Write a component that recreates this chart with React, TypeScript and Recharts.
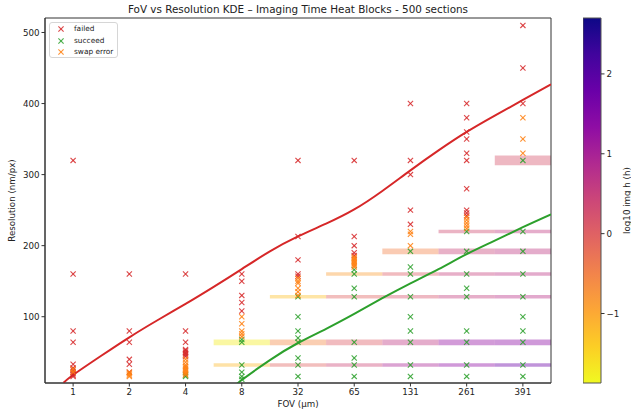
import React from 'react';
import {
  ComposedChart,
  XAxis,
  YAxis,
  Scatter,
  Line,
  ReferenceArea,
  Legend,
} from 'recharts';

// ---------------- data ----------------
const FOV_LABELS = ['1', '2', '4', '8', '32', '65', '131', '261', '391'];
const Y_TICKS = [100, 200, 300, 400, 500];
const CB_TICKS = [-1, 0, 1, 2];
const CB_MIN = -1.87;
const CB_MAX = 2.7;

// resolution values (nm/px) of sections per FOV column
const FAILED_RES: number[][] = [
  [320, 160, 80, 64, 33, 28, 25, 22, 20, 18, 16],
  [160, 80, 64, 40, 33, 22],
  [160, 80, 64, 54, 52, 50, 48, 46, 44],
  [160, 150, 130, 120, 108],
  [320, 213, 180, 160, 157],
  [320, 213, 200, 190, 186],
  [400, 320, 300, 250, 230],
  [400, 380, 360, 350, 330, 320, 280, 250, 246, 242],
  [510, 450, 400],
];
const SWAP_RES: number[][] = [
  [26, 22],
  [22, 20, 18, 16],
  [40, 36, 32, 30, 28, 26, 24, 22, 20, 18],
  [100, 90, 80, 76, 72],
  [154, 150, 147, 140, 135, 130],
  [184, 182, 180, 178, 176, 174, 172, 170],
  [220, 216, 200],
  [240, 236, 232, 228, 224],
  [380, 350, 330],
];
const SUCCEED_RES: number[][] = [
  [],
  [],
  [18, 16],
  [68, 64, 32, 22, 16, 12],
  [128, 100, 80, 70, 64, 42, 32, 16],
  [166, 160, 140, 128, 64, 42, 32, 16],
  [192, 170, 160, 128, 100, 80, 64, 32, 16],
  [220, 192, 160, 140, 128, 80, 64, 32, 16],
  [320, 220, 192, 160, 128, 100, 80, 64, 32, 16],
];

// KDE boundary curves (x = FOV column position)
const KDE_FAILED_X = [-0.17, 0, 0.5, 1, 1.5, 2, 2.5, 3, 3.5, 4, 4.5, 5, 5.5, 6, 6.5, 7, 7.5, 8, 8.5];
const KDE_FAILED_Y = [7, 18, 45, 71, 95, 118, 142, 167, 192, 213, 231, 251, 277, 306, 334, 360, 383, 405, 427];
const KDE_SUCCEED_X = [2.94, 3, 3.5, 4, 4.5, 5, 5.5, 6, 6.5, 7, 7.5, 8, 8.5];
const KDE_SUCCEED_Y = [7, 11, 39, 63, 83, 104, 126, 147, 167, 188, 207, 226, 244];

// heat blocks: resolution row, first FOV column, log10 imaging hours per column
const BLOCK_RES = [32, 64, 128, 160, 192, 220, 320];
const BLOCK_START_COL = [3, 3, 4, 5, 6, 7, 8];
const BLOCK_LOG_H: number[][] = [
  [-1.18, -0.04, 0.4, 0.96, 1.33, 1.79],
  [-1.73, -0.59, 0.05, 0.64, 1.28, 1.37],
  [-1.28, -0.04, 0.19, 0.55, 0.73],
  [-0.86, 0.05, 0.51, 0.69],
  [-0.5, 0.46, 0.64],
  [0.32, 0.6],
  [0.19],
];
// block half-thickness in resolution units (style)
const BLOCK_HALF = [2.5, 4, 2.5, 2.5, 4, 2.5, 7];

// ---------------- helpers ----------------
const PLASMA = ['#0d0887', '#41049d', '#6a00a8', '#8f0da4', '#b12a90', '#cc4778', '#e16462', '#f2844b', '#fca636', '#fcce25', '#f0f921'];
const hex = (h: string) => [1, 3, 5].map((i) => parseInt(h.slice(i, i + 2), 16));
function plasma(t: number): string {
  const c = Math.max(0, Math.min(1, t)) * 10;
  const i = Math.min(9, Math.floor(c));
  const f = c - i;
  const a = hex(PLASMA[i]);
  const b = hex(PLASMA[i + 1]);
  const m = a.map((v, k) => Math.round(v + (b[k] - v) * f));
  return `rgb(${m[0]},${m[1]},${m[2]})`;
}
const colorFor = (v: number) => plasma(1 - (v - CB_MIN) / (CB_MAX - CB_MIN));

const toPoints = (cols: number[][]) =>
  cols.flatMap((vals, i) => vals.map((y) => ({ x: i, y })));
const failedPts = toPoints(FAILED_RES);
const swapPts = toPoints(SWAP_RES);
const succeedPts = toPoints(SUCCEED_RES);
const redLine = KDE_FAILED_X.map((x, i) => ({ x, y: KDE_FAILED_Y[i] }));
const greenLine = KDE_SUCCEED_X.map((x, i) => ({ x, y: KDE_SUCCEED_Y[i] }));

const blocks = BLOCK_RES.flatMap((res, r) =>
  BLOCK_LOG_H[r].map((v, k) => {
    const col = BLOCK_START_COL[r] + k;
    return {
      key: `b${r}-${k}`,
      x1: col - 0.5,
      x2: col + 0.5,
      y1: res - BLOCK_HALF[r],
      y2: res + BLOCK_HALF[r],
      color: colorFor(v),
    };
  })
);

const RED = '#d62728';
const GREEN = '#2ca02c';
const ORANGE = '#ff7f0e';
const FONT = 'DejaVu Sans, sans-serif';
const X_DOMAIN: [number, number] = [-0.5, 8.5];
const Y_DOMAIN: [number, number] = [6.7, 520.4];

const XMark = (props: any) => {
  const { cx, cy, color } = props;
  if (cx == null || cy == null) return null;
  const s = 2.6;
  return (
    <g stroke={color} strokeWidth={1.1} strokeOpacity={0.85}>
      <line x1={cx - s} y1={cy - s} x2={cx + s} y2={cy + s} />
      <line x1={cx - s} y1={cy + s} x2={cx + s} y2={cy - s} />
    </g>
  );
};

const tickStyle = { fontSize: 8.7, fill: '#222', fontFamily: FONT };

const LegendBox = () => {
  const items = [
    { label: 'failed', color: RED },
    { label: 'succeed', color: GREEN },
    { label: 'swap error', color: ORANGE },
  ];
  return (
    <div
      style={{
        position: 'relative',
        width: 69,
        height: 36,
        border: '1px solid #d6d6d6',
        borderRadius: 3,
        background: 'rgba(255,255,255,0.85)',
        boxSizing: 'border-box',
        fontFamily: FONT,
        fontSize: 7.4,
        color: '#222',
      }}
    >
      {items.map((it, i) => (
        <div key={it.label} style={{ position: 'absolute', left: 0, top: 1 + i * 11.5, height: 10, width: 68 }}>
          <svg width={16} height={10} style={{ position: 'absolute', left: 4, top: 0 }}>
            <XMark cx={7} cy={5} color={it.color} />
          </svg>
          <span style={{ position: 'absolute', left: 24, top: 0, lineHeight: '10px', whiteSpace: 'nowrap' }}>{it.label}</span>
        </div>
      ))}
    </div>
  );
};

const xLabel = (p: any) => {
  const vb = p.viewBox;
  return (
    <text x={vb.x + vb.width / 2} y={vb.y + 21} textAnchor="middle" dominantBaseline="central" fontSize={8.7} fill="#222" fontFamily={FONT}>
      FOV (µm)
    </text>
  );
};
const yLabel = (p: any) => {
  const vb = p.viewBox;
  const x = vb.x + 12;
  const y = vb.y + vb.height / 2;
  return (
    <text x={x} y={y} transform={`rotate(-90, ${x}, ${y})`} textAnchor="middle" dominantBaseline="central" fontSize={8.7} fill="#222" fontFamily={FONT}>
      Resolution (nm/px)
    </text>
  );
};
const cbLabel = (p: any) => {
  const vb = p.viewBox;
  const x = vb.x + vb.width - 4;
  const y = vb.y + vb.height / 2;
  return (
    <text x={x} y={y} transform={`rotate(-90, ${x}, ${y})`} textAnchor="middle" dominantBaseline="central" fontSize={8.7} fill="#222" fontFamily={FONT}>
      log10 img h (h)
    </text>
  );
};

const CB_DATA = [
  { x: 0, v: CB_MIN },
  { x: 1, v: CB_MAX },
];

export default function App() {
  return (
    <div style={{ position: 'absolute', left: 0, top: 0, width: 631, height: 412, background: '#fff', fontFamily: FONT }}>
      <svg width={0} height={0} style={{ position: 'absolute' }}>
        <defs>
          <linearGradient id="plasmaCb" x1="0" y1="0" x2="0" y2="1">
            {PLASMA.map((c, i) => (
              <stop key={i} offset={`${i * 10}%`} stopColor={c} />
            ))}
          </linearGradient>
        </defs>
      </svg>
      <div
        style={{
          position: 'absolute',
          left: 45,
          top: 2,
          width: 506,
          textAlign: 'center',
          fontSize: 10.4,
          lineHeight: '14px',
          color: '#222',
          whiteSpace: 'nowrap',
        }}
      >
        FoV vs Resolution KDE – Imaging Time Heat Blocks - 500 sections
      </div>
      <div style={{ position: 'absolute', left: 0, top: 0 }}>
        <ComposedChart width={631} height={412} margin={{ top: 18, right: 80, bottom: 0, left: 0 }}>
          <XAxis
            type="number"
            dataKey="x"
            domain={X_DOMAIN}
            ticks={[0, 1, 2, 3, 4, 5, 6, 7, 8]}
            interval={0}
            allowDataOverflow
            tickFormatter={(v: number) => FOV_LABELS[v] ?? ''}
            height={29}
            tickSize={3.5}
            tickMargin={2}
            stroke="#333"
            tick={tickStyle}
            label={{ content: xLabel }}
          />
          <YAxis
            type="number"
            domain={Y_DOMAIN}
            ticks={Y_TICKS}
            interval={0}
            allowDataOverflow
            width={45}
            tickSize={3.5}
            tickMargin={2}
            stroke="#333"
            tick={tickStyle}
            label={{ content: yLabel }}
          />
          {blocks.map((b) => (
            <ReferenceArea
              key={b.key}
              x1={b.x1}
              x2={b.x2}
              y1={b.y1}
              y2={b.y2}
              fill={b.color}
              fillOpacity={0.42}
              stroke="none"
              ifOverflow="visible"
            />
          ))}
          <Scatter name="failed" data={failedPts} dataKey="y" isAnimationActive={false} shape={(p: any) => <XMark {...p} color={RED} />} />
          <Scatter name="succeed" data={succeedPts} dataKey="y" isAnimationActive={false} shape={(p: any) => <XMark {...p} color={GREEN} />} />
          <Scatter name="swap error" data={swapPts} dataKey="y" isAnimationActive={false} shape={(p: any) => <XMark {...p} color={ORANGE} />} />
          <Line data={redLine} dataKey="y" type="natural" stroke={RED} strokeWidth={2} dot={false} activeDot={false} isAnimationActive={false} />
          <Line data={greenLine} dataKey="y" type="natural" stroke={GREEN} strokeWidth={2} dot={false} activeDot={false} isAnimationActive={false} />
          <ReferenceArea x1={X_DOMAIN[0]} x2={X_DOMAIN[1]} y1={Y_DOMAIN[0]} y2={Y_DOMAIN[1]} fill="none" stroke="#333" strokeWidth={1} ifOverflow="visible" />
          <Legend
            layout="vertical"
            align="center"
            verticalAlign="middle"
            content={() => <LegendBox />}
            wrapperStyle={{ left: 49, top: 22, width: 69, height: 36 }}
          />
        </ComposedChart>
      </div>
      <div style={{ position: 'absolute', left: 583, top: 0 }}>
        <ComposedChart width={48} height={412} data={CB_DATA} margin={{ top: 18, right: 0, bottom: 29, left: 0 }}>
          <XAxis type="number" dataKey="x" domain={[0, 1]} hide />
          <YAxis
            type="number"
            dataKey="v"
            orientation="right"
            domain={[CB_MIN, CB_MAX]}
            ticks={CB_TICKS}
            interval={0}
            allowDataOverflow
            width={30}
            tickSize={3.5}
            tickMargin={2}
            axisLine={false}
            stroke="#333"
            tick={tickStyle}
            tickFormatter={(v: number) => (v < 0 ? `−${Math.abs(v)}` : `${v}`)}
            label={{ content: cbLabel }}
          />
          <ReferenceArea x1={0} x2={1} y1={CB_MIN} y2={CB_MAX} fill="url(#plasmaCb)" fillOpacity={1} stroke="#555" strokeWidth={1} ifOverflow="visible" />
        </ComposedChart>
      </div>
    </div>
  );
}
